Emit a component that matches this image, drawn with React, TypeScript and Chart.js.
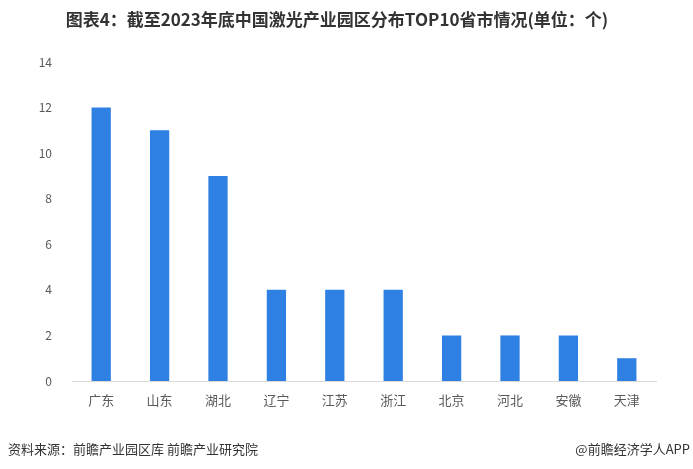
import React, { useEffect, useRef } from "react";
import { Chart, registerables } from "chart.js";

Chart.register(...registerables);

const categories = ["广东", "山东", "湖北", "辽宁", "江苏", "浙江", "北京", "河北", "安徽", "天津"];
const parkCounts = [12, 11, 9, 4, 4, 4, 2, 2, 2, 1];
const titleText = "图表4：截至2023年底中国激光产业园区分布TOP10省市情况(单位：个)";
const sourceText = "资料来源：前瞻产业园区库 前瞻产业研究院";
const brandText = "@前瞻经济学人APP";

const FONT = '"Noto Sans CJK SC", "Noto Sans", sans-serif';

export default function App() {
  const ref = useRef<HTMLCanvasElement | null>(null);

  useEffect(() => {
    document.body.style.margin = "0";
    const textPlugin = {
      id: "texts",
      afterDraw(chart: any) {
        const ctx = chart.ctx;
        ctx.save();
        ctx.fillStyle = "#333333";
        ctx.font = `bold 17px ${FONT}`;
        ctx.textAlign = "center";
        ctx.textBaseline = "middle";
        ctx.fillText(titleText, 337, 20);
        ctx.font = `13px ${FONT}`;
        ctx.textAlign = "left";
        ctx.fillText(sourceText, 8, 449);
        ctx.textAlign = "right";
        ctx.fillText(brandText, 690, 449);
        ctx.restore();
      },
    };
    const chart = new Chart(ref.current!, {
      type: "bar",
      data: {
        labels: categories,
        datasets: [
          {
            data: parkCounts,
            backgroundColor: "#2f80e3",
            barPercentage: 0.33,
            categoryPercentage: 1,
          },
        ],
      },
      options: {
        animation: false,
        responsive: false,
        layout: { padding: { left: 0, top: 62, right: 37, bottom: 48 } },
        plugins: { legend: { display: false }, tooltip: { enabled: false }, title: { display: false } },
        scales: {
          x: {
            grid: { display: false },
            border: { display: true, color: "#d9d9d9" },
            ticks: { color: "#595959", font: { family: FONT, size: 13 }, padding: 3 },
            afterFit: (s: any) => { s.height = 40; },
          },
          y: {
            min: 0,
            max: 14,
            grid: { display: false },
            border: { display: false },
            ticks: { stepSize: 2, color: "#595959", font: { family: FONT, size: 12 }, padding: 12 },
            afterFit: (s: any) => { s.width = 72; },
          },
        },
      },
      plugins: [textPlugin],
    });
    return () => chart.destroy();
  }, []);

  return (
    <div style={{ position: "absolute", left: 0, top: 0, width: 693, height: 469, background: "#fff" }}>
      <canvas ref={ref} width={693} height={469} style={{ width: 693, height: 469 }} />
    </div>
  );
}
